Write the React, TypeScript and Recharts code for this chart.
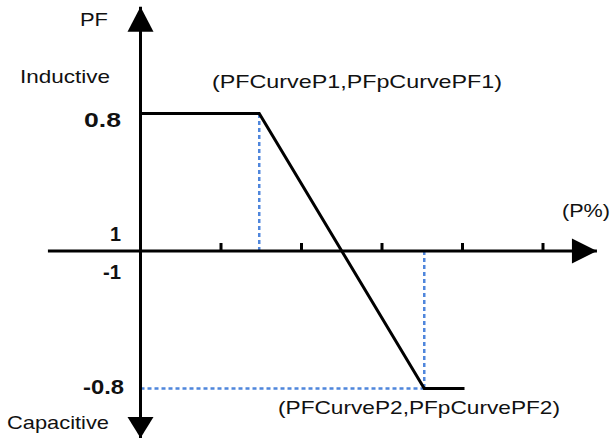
import React from 'react';
import { LineChart, Line, XAxis, YAxis, ReferenceLine, ReferenceDot } from 'recharts';

// P (%) of the curve corner points, and the PF value at each
const curveP = [0, 29.5, 70.5, 80.5];
const curvePF = [0.8, 0.8, -0.8, -0.8];

// the two labelled points: (PFCurveP1, PFpCurvePF1) and (PFCurveP2, PFpCurvePF2)
const pointP = [29.5, 70.5];
const pointPF = [0.8, -0.8];

// ticks on the P axis
const xTicks = [20, 40, 60, 80, 100];

// extent of the drawn axes, in chart units
const xAxisExtent = [-23, 113.4];
const yAxisExtent = [-1.087, 1.42];

const curveData = curveP.map((p, i) => ({ p, pf: curvePF[i] }));

const BLUE = '#4f86dc';
const FONT = '"Liberation Sans", Arial, sans-serif';

const ArrowUp = (props: any) => {
  const { cx, cy } = props;
  return <polygon points={`${cx},${cy} ${cx - 13},${cy + 25} ${cx + 13},${cy + 25}`} fill="#000" />;
};

const ArrowDown = (props: any) => {
  const { cx, cy } = props;
  return <polygon points={`${cx},${cy} ${cx - 13},${cy - 21} ${cx + 13},${cy - 21}`} fill="#000" />;
};

const ArrowRight = (props: any) => {
  const { cx, cy } = props;
  return <polygon points={`${cx},${cy} ${cx - 25},${cy - 12.5} ${cx - 25},${cy + 12.5}`} fill="#000" />;
};

const Tick = (props: any) => {
  const { cx, cy } = props;
  return <line x1={cx} y1={cy} x2={cx} y2={cy - 8} stroke="#000" strokeWidth={3} />;
};

const Txt = ({ x, y, w, bold, children }: any) => (
  <text
    x={x}
    y={y}
    textLength={w}
    lengthAdjust="spacingAndGlyphs"
    fontFamily={FONT}
    fontSize={bold ? 20 : 19}
    fontWeight={bold ? 700 : 400}
    fill="#111"
  >
    {children}
  </text>
);

const dashed = { stroke: BLUE, strokeWidth: 2.5, strokeDasharray: '4 3', ifOverflow: 'visible' as const };

export default function App() {
  return (
    <div style={{ width: 611, height: 439, position: 'relative', background: '#fff' }}>
      <style>{`body{margin:0}`}</style>
      <LineChart width={611} height={439} data={curveData} margin={{ top: 0, right: 0, bottom: 0, left: 0 }}>
        <XAxis dataKey="p" type="number" domain={[-34.907, 116.894]} allowDataOverflow hide />
        <YAxis type="number" domain={[-1.093, 1.4593]} allowDataOverflow hide />

        {/* dashed guides to the corner points */}
        <ReferenceLine segment={[{ x: pointP[0], y: 0 }, { x: pointP[0], y: pointPF[0] }]} {...dashed} />
        <ReferenceLine segment={[{ x: pointP[1], y: 0 }, { x: pointP[1], y: pointPF[1] }]} {...dashed} />
        <ReferenceLine segment={[{ x: 0, y: pointPF[1] }, { x: pointP[1], y: pointPF[1] }]} {...dashed} />

        {/* axes */}
        <ReferenceLine
          segment={[{ x: xAxisExtent[0], y: 0 }, { x: xAxisExtent[1], y: 0 }]}
          stroke="#000"
          strokeWidth={3}
          ifOverflow="visible"
        />
        <ReferenceLine
          segment={[{ x: 0, y: yAxisExtent[0] }, { x: 0, y: yAxisExtent[1] }]}
          stroke="#000"
          strokeWidth={3}
          ifOverflow="visible"
        />
        {xTicks.map(t => (
          <ReferenceDot key={t} x={t} y={0} r={1} shape={Tick} ifOverflow="visible" />
        ))}
        <ReferenceDot x={0} y={yAxisExtent[1]} r={1} shape={ArrowUp} ifOverflow="visible" />
        <ReferenceDot x={0} y={yAxisExtent[0]} r={1} shape={ArrowDown} ifOverflow="visible" />
        <ReferenceDot x={xAxisExtent[1]} y={0} r={1} shape={ArrowRight} ifOverflow="visible" />

        <Line
          dataKey="pf"
          type="linear"
          stroke="#000"
          strokeWidth={3}
          dot={false}
          activeDot={false}
          isAnimationActive={false}
        />
      </LineChart>

      {/* annotation text */}
      <svg width={611} height={439} style={{ position: 'absolute', left: 0, top: 0, pointerEvents: 'none' }}>
        <Txt x={80} y={26} w={28}>PF</Txt>
        <Txt x={20} y={83} w={90}>Inductive</Txt>
        <Txt x={84} y={127} w={37} bold>0.8</Txt>
        <Txt x={110} y={241} w={11} bold>1</Txt>
        <Txt x={103} y={279} w={18} bold>-1</Txt>
        <Txt x={83} y={394} w={41} bold>-0.8</Txt>
        <Txt x={7} y={429} w={102}>Capacitive</Txt>
        <Txt x={212} y={88} w={290}>(PFCurveP1,PFpCurvePF1)</Txt>
        <Txt x={562} y={217} w={48}>(P%)</Txt>
        <Txt x={278} y={414} w={282}>(PFCurveP2,PFpCurvePF2)</Txt>
      </svg>
    </div>
  );
}
